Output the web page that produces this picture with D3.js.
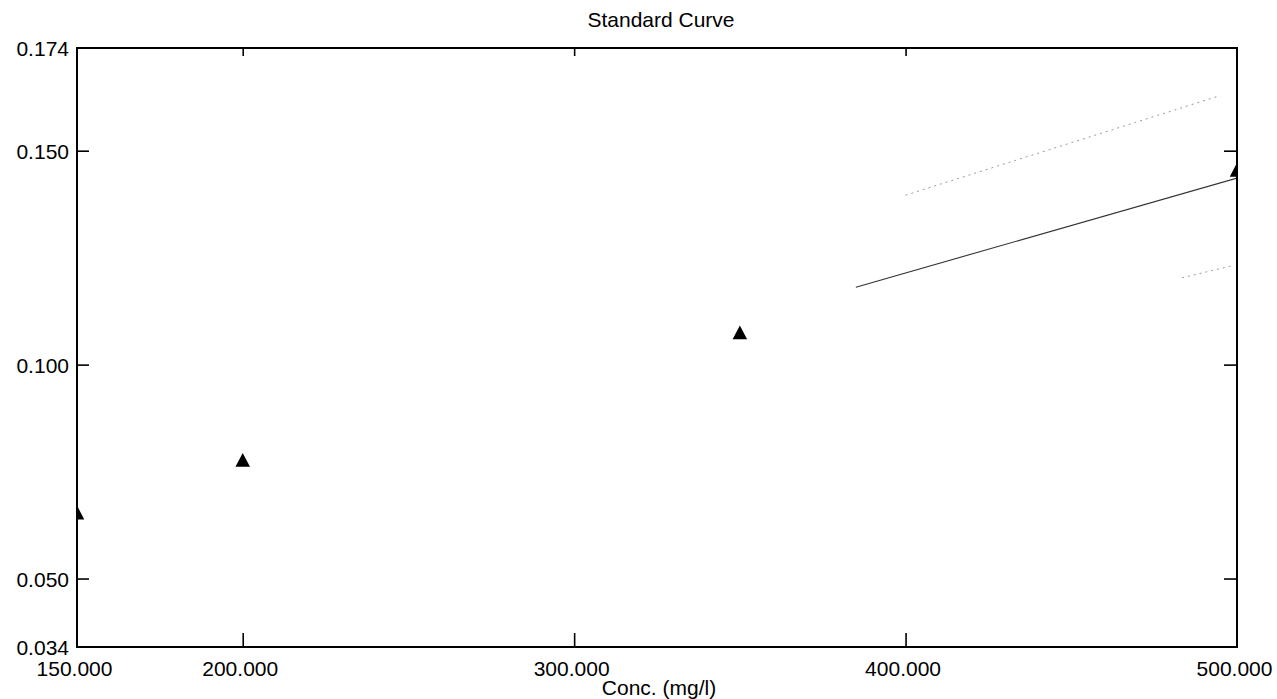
<!DOCTYPE html>
<html>
<head>
<meta charset="utf-8">
<script src="https://cdn.jsdelivr.net/npm/d3@7/dist/d3.min.js"></script>
<style>
  html, body { margin: 0; padding: 0; background: #fff; }
  svg { display: block; }
  text { font-family: "Liberation Sans", Arial, Helvetica, sans-serif; fill: #000; }
</style>
</head>
<body>
<svg id="chart" width="1277" height="699"></svg>
<script>
// ---- data ----
const chartTitle = "Standard Curve";
const xAxisTitle = "Conc. (mg/l)";
const xDomain = [150, 500];
const yDomain = [0.034, 0.174];
const xTickLabels = [150, 200, 300, 400, 500];
const xInnerTicks = [200, 300, 400];
const yTickLabels = [0.034, 0.050, 0.100, 0.150, 0.174];
const yInnerTicks = [0.050, 0.100, 0.150];

// standards (triangles)
const standardConc = [150, 200, 350, 500];
const standardAbs  = [0.0649, 0.0772, 0.1070, 0.1450];

// regression line (visible part)
const fitConc = [385, 500];
const fitAbs  = [0.1181, 0.1436];

// confidence band fragments (faint dotted)
const upperConc = [400, 494.6];
const upperAbs  = [0.1396, 0.1628];
const lowerConc = [483.4, 498.5];
const lowerAbs  = [0.1203, 0.1231];

// ---- layout ----
const pLeft = 77, pRight = 1237, pTop = 48, pBottom = 647;
const svg = d3.select("#chart");

const x = d3.scaleLinear().domain(xDomain).range([pLeft, pRight]);
const y = d3.scaleLinear().domain(yDomain).range([pBottom, pTop]);

const fmt = d3.format(".3f");

// clip
svg.append("defs").append("clipPath").attr("id", "plotclip")
  .append("rect").attr("x", pLeft).attr("y", pTop)
  .attr("width", pRight - pLeft).attr("height", pBottom - pTop);

// title
svg.append("text")
  .attr("x", (pLeft + pRight) / 2 + 4)
  .attr("y", 27)
  .attr("text-anchor", "middle")
  .style("font-size", "21px")
  .text(chartTitle);

// bottom axis (ticks inward + labels)
const gx = svg.append("g").attr("transform", `translate(0,${pBottom})`)
  .call(d3.axisBottom(x).tickValues(xTickLabels).tickFormat(fmt)
        .tickSizeInner(-14).tickSizeOuter(0).tickPadding(14));
gx.select(".domain").remove();
gx.selectAll(".tick line")
  .attr("stroke", "#000").attr("stroke-width", 1.6)
  .filter(d => !xInnerTicks.includes(d)).remove();
gx.selectAll(".tick text")
  .attr("dx", -3)
  .style("font-size", "21px").style("font-family", "Liberation Sans, Arial, sans-serif")
  .attr("fill", "#000");

// top axis (inward ticks only)
const gt = svg.append("g").attr("transform", `translate(0,${pTop})`)
  .call(d3.axisTop(x).tickValues(xInnerTicks).tickFormat("")
        .tickSizeInner(-8).tickSizeOuter(0));
gt.select(".domain").remove();
gt.selectAll(".tick line").attr("stroke", "#000").attr("stroke-width", 1.6);

// left axis
const gy = svg.append("g").attr("transform", `translate(${pLeft},0)`)
  .call(d3.axisLeft(y).tickValues(yTickLabels).tickFormat(fmt)
        .tickSizeInner(-12).tickSizeOuter(0).tickPadding(8));
gy.select(".domain").remove();
gy.selectAll(".tick line")
  .attr("stroke", "#000").attr("stroke-width", 1.6)
  .filter(d => !yInnerTicks.includes(d)).remove();
gy.selectAll(".tick text")
  .attr("dy", "0.38em")
  .style("font-size", "21px").style("font-family", "Liberation Sans, Arial, sans-serif")
  .attr("fill", "#000");

// right axis (inward ticks only)
const gr = svg.append("g").attr("transform", `translate(${pRight},0)`)
  .call(d3.axisRight(y).tickValues(yInnerTicks).tickFormat("")
        .tickSizeInner(-13).tickSizeOuter(0));
gr.select(".domain").remove();
gr.selectAll(".tick line").attr("stroke", "#000").attr("stroke-width", 1.6);

// x axis title
svg.append("text")
  .attr("x", (pLeft + pRight) / 2 + 2)
  .attr("y", 695)
  .attr("text-anchor", "middle")
  .style("font-size", "21px")
  .text(xAxisTitle);

const plot = svg.append("g").attr("clip-path", "url(#plotclip)");

const line = d3.line().x(d => x(d[0])).y(d => y(d[1]));

// confidence band fragments
plot.append("path")
  .datum(d3.zip(upperConc, upperAbs))
  .attr("d", line).attr("fill", "none")
  .attr("stroke", "#9a9a9a").attr("stroke-width", 1)
  .attr("stroke-dasharray", "2,4");
plot.append("path")
  .datum(d3.zip(lowerConc, lowerAbs))
  .attr("d", line).attr("fill", "none")
  .attr("stroke", "#9a9a9a").attr("stroke-width", 1)
  .attr("stroke-dasharray", "2,4");

// regression line
plot.append("path")
  .datum(d3.zip(fitConc, fitAbs))
  .attr("d", line).attr("fill", "none")
  .attr("stroke", "#333").attr("stroke-width", 1.1);

// triangles
const triangle = {
  draw(ctx, size) {
    const s = Math.sqrt(size);      // base width
    const h = s * 0.96;             // height
    ctx.moveTo(0, -h * 2 / 3);
    ctx.lineTo(s / 2, h / 3);
    ctx.lineTo(-s / 2, h / 3);
    ctx.closePath();
  }
};
plot.selectAll("path.pt")
  .data(d3.zip(standardConc, standardAbs))
  .join("path")
  .attr("class", "pt")
  .attr("transform", d => `translate(${x(d[0])},${y(d[1])})`)
  .attr("d", d3.symbol().type(triangle).size(14.5 * 14.5))
  .attr("fill", "#000");

// frame
svg.append("rect")
  .attr("x", pLeft).attr("y", pTop)
  .attr("width", pRight - pLeft).attr("height", pBottom - pTop)
  .attr("fill", "none").attr("stroke", "#000").attr("stroke-width", 2);
</script>
</body>
</html>
